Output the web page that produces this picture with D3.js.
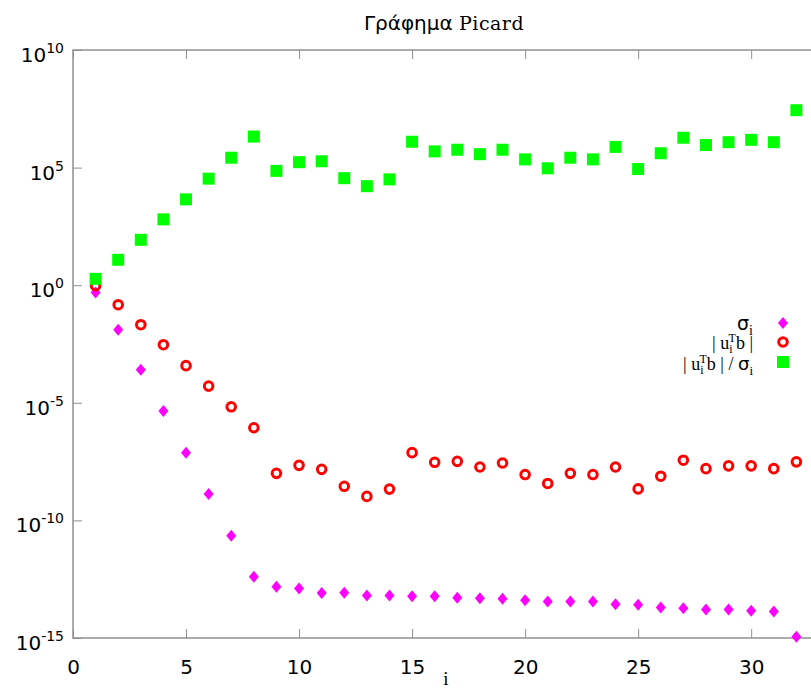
<!DOCTYPE html>
<html>
<head>
<meta charset="utf-8">
<script src="https://cdn.jsdelivr.net/npm/d3@7"></script>
<style>
  body { margin: 0; background: #fff; }
  svg { display: block; }
</style>
</head>
<body>
<div id="chart"></div>
<script>
var margin = {top: 50, right: 0, bottom: 52, left: 73},
	width = 746,
	height = 638 - margin.top;

// index i
var idx = d3.range(1, 33);

// log10 of the values
var logSigma = [-0.31, -1.89, -3.60, -5.35, -7.12, -8.88, -10.65, -12.40, -12.82, -12.90,
	-13.09, -13.08, -13.19, -13.19, -13.22, -13.22, -13.29, -13.31, -13.33, -13.40,
	-13.45, -13.45, -13.45, -13.56, -13.59, -13.70, -13.74, -13.79, -13.79, -13.84,
	-13.87, -14.95];
var logUtb = [-0.02, -0.83, -1.68, -2.53, -3.42, -4.29, -5.17, -6.06, -8.00, -7.66,
	-7.83, -8.55, -8.98, -8.67, -7.12, -7.53, -7.49, -7.73, -7.56, -8.05,
	-8.43, -8.00, -8.05, -7.73, -8.66, -8.12, -7.44, -7.80, -7.68, -7.68,
	-7.80, -7.51];
var logRatio = [0.27, 1.08, 1.93, 2.80, 3.65, 4.53, 5.42, 6.32, 4.86, 5.23,
	5.27, 4.55, 4.21, 4.50, 6.10, 5.69, 5.76, 5.57, 5.76, 5.35,
	4.97, 5.42, 5.35, 5.88, 4.94, 5.61, 6.27, 5.96, 6.08, 6.18,
	6.08, 7.44];

var xTicks = [0, 5, 10, 15, 20, 25, 30];
var yExps = [10, 5, 0, -5, -10, -15];

var sigma = logSigma.map(function(v) { return Math.pow(10, v); });
var utb = logUtb.map(function(v) { return Math.pow(10, v); });
var ratio = logRatio.map(function(v) { return Math.pow(10, v); });

var x = d3.scaleLinear().domain([0, 33]).range([0, width]);
var y = d3.scaleLog().domain([1e-15, 1e10]).range([height, 0]);

var svg = d3.select("#chart")
	.append("svg")
		.attr("width", 811)
		.attr("height", 690)
	.append("g")
		.attr("transform", "translate(" + margin.left + "," + margin.top + ")");

var axisCol = "#909090";

// frame
svg.append("rect")
	.attr("x", 0).attr("y", 0)
	.attr("width", width).attr("height", height)
	.attr("fill", "none")
	.attr("stroke", axisCol)
	.attr("stroke-width", 1.5);

// x axis, ticks pointing inward
var xAxis = svg.append("g")
	.attr("transform", "translate(0," + height + ")")
	.call(d3.axisBottom(x).tickValues(xTicks).tickSizeInner(-9).tickSizeOuter(0).tickFormat(d3.format("d")));
xAxis.select(".domain").remove();
xAxis.selectAll("line").attr("stroke", axisCol);
xAxis.selectAll("text")
	.attr("y", 22)
	.attr("fill", "#000")
	.style("font-family", "DejaVu Sans")
	.style("font-size", "20px");

// mirror ticks on top
svg.append("g")
	.call(d3.axisTop(x).tickValues(xTicks).tickSizeInner(-9).tickSizeOuter(0).tickFormat(""))
	.call(function(g) { g.select(".domain").remove(); g.selectAll("line").attr("stroke", axisCol); });

// y axis ticks
var yVals = yExps.map(function(e) { return Math.pow(10, e); });
var yAxis = svg.append("g")
	.call(d3.axisLeft(y).tickValues(yVals).tickSizeInner(-9).tickSizeOuter(0).tickFormat(""));
yAxis.select(".domain").remove();
yAxis.selectAll("line").attr("stroke", axisCol);

// y tick labels as 10^n
var yLab = svg.append("g").selectAll("text")
	.data(yExps)
	.enter().append("text")
		.attr("x", -9)
		.attr("y", function(d) { return y(Math.pow(10, d)) + 12; })
		.attr("text-anchor", "end")
		.style("font-family", "DejaVu Sans")
		.style("font-size", "20px");
yLab.append("tspan").text("10");
yLab.append("tspan")
	.attr("dy", -9)
	.style("font-size", "14px")
	.text(function(d) { return d; });

// axis label and title
svg.append("text")
	.attr("x", x(16.5))
	.attr("y", height + 47)
	.attr("text-anchor", "middle")
	.style("font-family", "Liberation Serif")
	.style("font-size", "19px")
	.text("i");

var title = svg.append("text")
	.attr("x", x(16.5) - 2)
	.attr("y", -20)
	.attr("text-anchor", "middle")
	.style("font-size", "20px");
title.append("tspan").style("font-family", "DejaVu Sans").text("Γράφημα ");
title.append("tspan").style("font-family", "DejaVu Serif").style("font-size", "19px")
	.style("letter-spacing", "0.5px").text("Picard");

// markers
var plot = svg.append("g");

plot.selectAll(".sig")
	.data(idx)
	.enter().append("path")
		.attr("class", "sig")
		.attr("transform", function(d, i) { return "translate(" + x(d) + "," + y(sigma[i]) + ")"; })
		.attr("d", "M0,-6L5,0L0,6L-5,0Z")
		.attr("fill", "#ff00ff");

plot.selectAll(".utb")
	.data(idx)
	.enter().append("circle")
		.attr("class", "utb")
		.attr("cx", function(d) { return x(d); })
		.attr("cy", function(d, i) { return y(utb[i]); })
		.attr("r", 4.3)
		.attr("fill", "none")
		.attr("stroke", "#ff0000")
		.attr("stroke-width", 3);

plot.selectAll(".rat")
	.data(idx)
	.enter().append("rect")
		.attr("class", "rat")
		.attr("x", function(d) { return x(d) - 6; })
		.attr("y", function(d, i) { return y(ratio[i]) - 6; })
		.attr("width", 12)
		.attr("height", 12)
		.attr("fill", "#00ff00");

// legend
var legend = svg.append("g");
var lx = 680, ly = [273, 292, 312];

var t1 = legend.append("text").attr("x", lx).attr("y", ly[0] + 7).attr("text-anchor", "end")
	.style("font-size", "19px");
t1.append("tspan").style("font-family", "DejaVu Sans").text("σ");
t1.append("tspan").style("font-family", "Liberation Serif").style("font-size", "14px").attr("dy", 5).text("i");

var t2 = legend.append("text").attr("x", lx).attr("y", ly[1] + 7).attr("text-anchor", "end")
	.style("font-family", "Liberation Serif").style("font-size", "18px");
t2.append("tspan").text("| u");
t2.append("tspan").style("font-size", "12px").attr("dy", 4).text("i");
t2.append("tspan").style("font-size", "12px").attr("dx", -4).attr("dy", -11).text("T");
t2.append("tspan").attr("dy", 7).text("b |");

var t3 = legend.append("text").attr("x", lx).attr("y", ly[2] + 8).attr("text-anchor", "end")
	.style("font-family", "Liberation Serif").style("font-size", "18px");
t3.append("tspan").text("| u");
t3.append("tspan").style("font-size", "12px").attr("dy", 4).text("i");
t3.append("tspan").style("font-size", "12px").attr("dx", -4).attr("dy", -11).text("T");
t3.append("tspan").attr("dy", 7).text("b | / ");
t3.append("tspan").style("font-family", "DejaVu Sans").text("σ");
t3.append("tspan").style("font-size", "13px").attr("dy", 5).text("i");

var sx = 710;
legend.append("path")
	.attr("transform", "translate(" + sx + "," + ly[0] + ")")
	.attr("d", "M0,-6L5,0L0,6L-5,0Z")
	.attr("fill", "#ff00ff");
legend.append("circle")
	.attr("cx", sx).attr("cy", ly[1]).attr("r", 4.3)
	.attr("fill", "none").attr("stroke", "#ff0000").attr("stroke-width", 3);
legend.append("rect")
	.attr("x", sx - 6).attr("y", ly[2] - 6).attr("width", 12).attr("height", 12)
	.attr("fill", "#00ff00");
</script>
</body>
</html>
